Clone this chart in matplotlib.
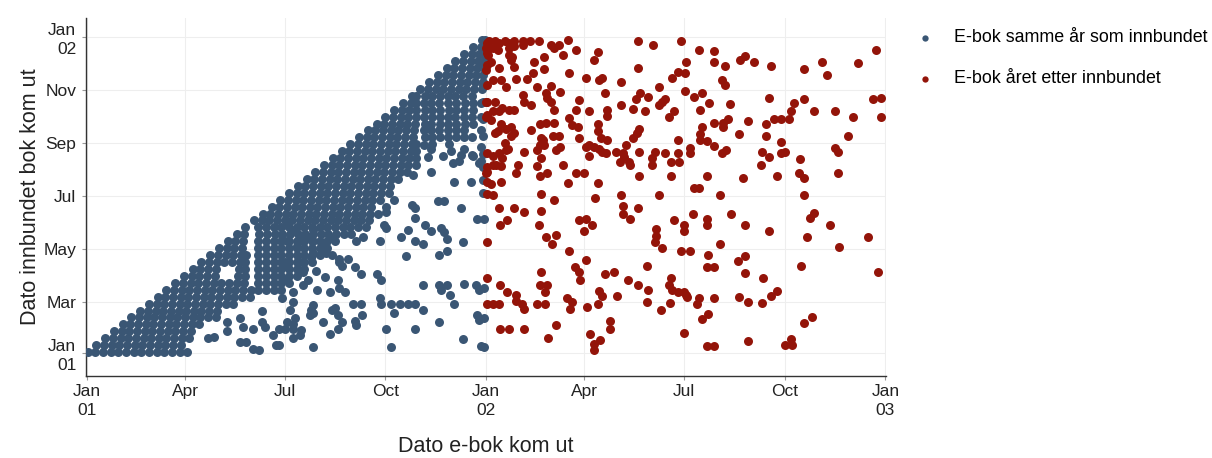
import numpy as np
import matplotlib.pyplot as plt
import matplotlib.dates as mdates

plt.rcParams['font.family'] = ['Liberation Sans', 'DejaVu Sans']

# dager etter 1. jan 2001: (innbundet, [e-bok, ...])
blue_rows = [
    (1, [1, 8, 15, 22, 29, 36, 43, 50, 57, 64, 71, 78, 85, 92]),
    (9, [9, 16, 23, 30, 37, 44, 51, 58, 65, 72, 79, 86]),
    (17, [17, 24, 31, 38, 45, 52, 59, 66, 73, 80, 87, 94]),
    (25, [25, 32, 39, 46, 53, 60, 67, 74, 81, 88, 95]),
    (33, [33, 40, 47, 54, 61, 68, 75, 82, 89, 96, 103]),
    (41, [41, 48, 55, 62, 69, 76, 83, 90, 97, 104, 111, 118]),
    (49, [49, 56, 63, 70, 77, 84, 91, 98, 105, 112, 119]),
    (57, [57, 64, 71, 78, 85, 92, 99, 106, 113, 120, 127, 134]),
    (65, [65, 72, 79, 86, 93, 100, 107, 114, 121, 128, 135, 142, 149]),
    (73, [73, 80, 87, 94, 101, 108, 115, 122, 129, 136, 143, 150, 157, 164, 171, 178]),
    (81, [81, 88, 95, 102, 109, 116, 123, 130, 137, 144, 157, 164, 171, 178, 185]),
    (89, [89, 96, 103, 110, 117, 138, 145, 157, 164, 171, 178, 185, 192]),
    (97, [97, 104, 111, 118, 139, 145, 157, 164, 171, 178, 185, 192, 199]),
    (105, [105, 112, 119, 126, 133, 140, 145, 157, 164, 171, 178, 185, 192, 199, 206]),
    (113, [113, 120, 127, 134, 141, 146, 157, 164, 171, 178, 185, 192, 199, 206, 213]),
    (121, [121, 128, 135, 142, 157, 164, 171, 178, 185, 192, 199, 206, 213, 220]),
    (129, [129, 136, 143, 157, 164, 171, 178, 185, 192, 199, 206, 213, 220, 227]),
    (137, [137, 144, 158, 165, 172, 179, 186, 193, 200, 207, 214, 221, 228, 235, 242]),
    (145, [145, 157, 164, 171, 178, 185, 192, 199, 206, 213, 220, 227, 234, 241, 248, 255]),
    (153, [153, 160, 167, 174, 181, 188, 195, 202, 209, 216, 223, 230, 237, 244, 251, 258]),
    (161, [161, 168, 175, 182, 189, 196, 203, 210, 217, 224, 231, 238, 245, 252, 259, 266]),
    (169, [169, 176, 183, 190, 197, 204, 211, 218, 225, 232, 239, 246, 253, 260]),
    (177, [177, 184, 191, 198, 205, 212, 219, 226, 233, 240, 247, 254, 261, 268]),
    (185, [185, 192, 199, 206, 213, 220, 227, 234, 241, 248, 255, 262, 269, 276]),
    (193, [193, 200, 207, 214, 221, 228, 235, 242, 249, 256, 263, 270, 277]),
    (201, [201, 208, 215, 222, 229, 236, 243, 250, 257, 264, 271, 278, 285]),
    (209, [209, 216, 223, 230, 237, 244, 251, 258, 265, 272, 279, 286, 293]),
    (217, [217, 224, 231, 238, 245, 252, 259, 266, 273, 280, 287, 294, 301]),
    (225, [225, 232, 239, 246, 253, 260, 267, 274, 281, 288, 295, 301]),
    (233, [233, 240, 247, 254, 261, 268, 275, 282, 289, 296, 301]),
    (241, [241, 248, 255, 262, 269, 276, 283, 290, 297, 301, 316, 331]),
    (249, [249, 256, 263, 270, 277, 284, 291, 298, 309, 316, 323, 330, 338, 345, 352]),
    (257, [257, 264, 271, 278, 285, 292, 299, 308, 315, 322, 330, 338, 345, 360]),
    (265, [265, 272, 279, 286, 293, 300, 309, 315, 323, 330, 338, 346, 353]),
    (273, [273, 280, 287, 294, 301, 308, 316, 323, 330, 337, 345, 352, 360]),
    (281, [281, 288, 295, 301, 309, 316, 323, 331, 338, 345, 353]),
    (289, [289, 296, 301, 308, 315, 322, 330, 338, 346, 353, 360]),
    (297, [297, 301, 309, 316, 323, 330, 337, 344, 352]),
    (305, [305, 312, 319, 326, 333, 340, 347, 354, 361]),
    (313, [313, 320, 327, 334, 341, 348, 355, 362]),
    (321, [321, 328, 335, 342, 349, 356, 362]),
    (329, [329, 336, 343, 350, 357, 363]),
    (337, [337, 344, 351, 358, 363]),
    (345, [345, 352, 359, 364]),
    (353, [353, 360, 364]),
    (361, [361, 364]),
]

# (e-bok, innbundet) for spredte punkter i samme år
blue_extra = [
    (308, 240), (315, 235), (326, 228), (333, 233), (345, 236), (352, 229), (360, 238),
    (312, 226), (340, 222), (360, 222), (298, 206), (315, 209), (336, 198), (351, 198),
    (335, 219), (353, 227), (359, 219), (342, 229),
    (362, 185), (362, 200), (362, 215), (362, 230), (362, 250), (362, 270), (362, 290),
    (362, 310), (362, 330), (362, 345), (363, 355), (363, 155), (363, 75), (363, 40), (363, 7),
    (281, 177), (321, 176), (327, 175), (342, 168), (357, 155), (297, 171), (300, 168),
    (300, 156), (274, 169), (274, 163), (272, 148), (274, 144), (294, 142), (287, 134),
    (309, 148), (315, 141), (324, 144), (327, 140), (329, 132), (344, 128), (307, 126),
    (300, 129), (268, 129), (253, 134), (246, 129), (292, 112), (322, 113), (329, 118),
    (239, 108), (231, 105), (233, 100), (245, 99), (251, 91), (265, 91), (269, 84),
    (307, 78), (322, 79), (329, 79), (324, 73), (332, 67), (336, 57), (345, 80), (356, 79),
    (359, 73), (268, 63), (269, 57), (278, 56), (286, 57), (294, 56), (300, 56), (307, 50),
    (281, 46), (251, 57), (243, 56), (252, 44), (245, 37), (246, 32), (230, 28), (222, 22),
    (224, 50), (230, 44), (227, 52), (207, 55), (205, 50), (204, 44), (207, 46), (189, 59),
    (186, 50), (190, 40), (189, 34), (183, 36), (181, 28), (189, 28), (196, 27), (189, 17),
    (195, 21), (176, 9), (207, 7), (274, 28), (278, 7), (300, 28), (322, 36), (344, 16),
    (357, 44), (359, 38), (360, 8), (216, 36), (233, 36), (198, 79), (189, 71), (179, 63),
    (211, 73), (222, 70), (231, 75), (236, 71), (230, 84), (218, 88), (210, 95), (198, 93),
    (202, 84), (183, 86), (181, 105), (183, 100), (195, 105), (205, 111), (207, 115),
    (219, 115), (224, 113), (231, 109), (216, 125), (222, 133), (207, 129), (204, 134),
    (207, 142), (190, 142), (183, 148), (179, 136), (183, 129), (192, 123), (196, 130),
    (111, 17), (116, 19), (128, 36), (128, 25), (140, 40), (143, 30), (152, 28), (160, 48),
    (160, 36), (152, 5), (158, 3), (140, 13), (146, 13), (170, 21), (173, 9), (176, 28),
    (163, 30),
]

# (e-bok, innbundet) for e-bok året etter
red_points = [
    (368, 360), (373, 360), (377, 358), (382, 360), (386, 358), (391, 360), (399, 360),
    (405, 360), (413, 360), (424, 356), (432, 356), (440, 361), (504, 360), (518, 356),
    (543, 360), (365, 352), (371, 352), (376, 350), (386, 352), (391, 354), (399, 356),
    (427, 352), (435, 344), (447, 350), (467, 348), (464, 338), (418, 342), (409, 336),
    (408, 323), (418, 328), (386, 344), (388, 338), (389, 342), (367, 344), (370, 336),
    (377, 329), (391, 330), (365, 327), (371, 315), (379, 315), (383, 307), (392, 316),
    (402, 316), (412, 307), (424, 308), (433, 301), (420, 300), (399, 298), (400, 290),
    (406, 286), (421, 294), (424, 290), (427, 281), (441, 323), (456, 317), (468, 315),
    (471, 317), (488, 313), (474, 300), (450, 292), (447, 281), (459, 279), (476, 281),
    (476, 274), (488, 286), (499, 282), (502, 293), (506, 300), (513, 296), (523, 307),
    (535, 317), (540, 324), (547, 323), (504, 329), (547, 302), (526, 290), (529, 293),
    (523, 286), (537, 279), (532, 273), (510, 279), (365, 290), (373, 290), (371, 279),
    (377, 279), (380, 283), (386, 281), (391, 281), (365, 273), (370, 269), (379, 265),
    (383, 259), (388, 261), (391, 254), (388, 250), (373, 254), (376, 256), (406, 258),
    (414, 265), (420, 266), (427, 266), (441, 271), (444, 263), (449, 261), (467, 265),
    (450, 248), (415, 248), (414, 240), (418, 240), (412, 234), (417, 246), (426, 251),
    (432, 251), (433, 238), (429, 234), (467, 256), (470, 248), (476, 246), (459, 240),
    (456, 238), (464, 238), (468, 236), (471, 232), (475, 231), (459, 227), (484, 232),
    (490, 231), (493, 240), (499, 248), (503, 254), (505, 259), (505, 232), (517, 225),
    (519, 232), (529, 231), (540, 246), (534, 220), (541, 220), (540, 231), (371, 227),
    (377, 231), (380, 225), (371, 217), (379, 216), (374, 217), (365, 208), (394, 217),
    (392, 208), (400, 232), (415, 225), (412, 216), (414, 204), (421, 208), (435, 217),
    (440, 196), (447, 208), (455, 208), (467, 196), (491, 226), (487, 221), (496, 221),
    (497, 217), (505, 204), (517, 217), (534, 204), (370, 195), (379, 197), (371, 182),
    (415, 184), (427, 177), (465, 179), (488, 182), (523, 182), (383, 234), (382, 242),
    (385, 236),
    (366, 358), (366, 346), (366, 333), (366, 310), (366, 290), (366, 275), (366, 231),
    (366, 215), (366, 209), (366, 198), (366, 184), (366, 128), (366, 87), (366, 56),
    (560, 350), (573, 349), (548, 336), (573, 336), (583, 331), (597, 338), (602, 343),
    (610, 336), (625, 331), (581, 315), (583, 310), (555, 296), (562, 300), (569, 289),
    (561, 281), (588, 287), (624, 295), (573, 266), (582, 266), (586, 270), (582, 261),
    (562, 261), (561, 253), (561, 246), (567, 245), (573, 239), (596, 253), (604, 268),
    (621, 265), (621, 251), (628, 270), (635, 270), (642, 270), (644, 280), (646, 289),
    (656, 293), (656, 328), (665, 280), (672, 336), (677, 321), (684, 279), (700, 273),
    (696, 251), (705, 335), (721, 350), (719, 293), (726, 294), (726, 273), (551, 237),
    (551, 231), (581, 231), (584, 234), (617, 232), (624, 226), (616, 217), (635, 244),
    (635, 231), (638, 232), (652, 224), (684, 237), (687, 232), (651, 208), (656, 202),
    (687, 208), (567, 204), (600, 202), (631, 204), (555, 191), (560, 190), (579, 182),
    (656, 182),
    (377, 168), (391, 168), (400, 163), (384, 154), (378, 148), (415, 164), (413, 148),
    (420, 134), (429, 136), (425, 126), (441, 118), (450, 154), (456, 155), (462, 148),
    (455, 141), (490, 170), (490, 161), (504, 168), (497, 155), (520, 143), (520, 135),
    (519, 128), (526, 121), (537, 154), (546, 148), (546, 141), (543, 118), (456, 107),
    (446, 99), (450, 94), (451, 84), (474, 91), (482, 93), (495, 84), (504, 78), (513, 73),
    (512, 100), (534, 87), (532, 78), (535, 73), (540, 71), (546, 71), (548, 67), (512, 59),
    (525, 50), (533, 58), (468, 72), (471, 66), (485, 66), (467, 56), (457, 53), (478, 37),
    (478, 28), (469, 15), (460, 22), (464, 10), (464, 3), (415, 94), (414, 79), (421, 79),
    (419, 70), (412, 56), (419, 56), (439, 63), (444, 59), (442, 51), (429, 32), (422, 17),
    (378, 79), (384, 70), (392, 67), (392, 60), (398, 56), (400, 51), (371, 56), (377, 56),
    (378, 28), (386, 28), (400, 28), (546, 23),
    (554, 161), (567, 155), (567, 148), (589, 161), (602, 148), (624, 141), (579, 126),
    (551, 118), (568, 113), (595, 106), (602, 112), (567, 99), (573, 99), (602, 92),
    (618, 87), (665, 162), (661, 156), (679, 148), (658, 134), (714, 134), (688, 122),
    (653, 101), (723, 94), (549, 65), (560, 64), (558, 56), (573, 64), (596, 65), (604, 59),
    (617, 58), (625, 66), (631, 72), (568, 45), (562, 39), (567, 8), (573, 8), (604, 14),
    (638, 9), (644, 16), (645, 9), (656, 35), (663, 42),
]

BLUE = '#3a5674'
RED = '#931409'
start = np.datetime64('2001-01-01')


def to_dates(days):
    return start + np.array(days, dtype='timedelta64[D]')


blue_e = [e for h, row in blue_rows for e in row] + [p[0] for p in blue_extra]
blue_h = [h for h, row in blue_rows for e in row] + [p[1] for p in blue_extra]
red_e = [p[0] for p in red_points]
red_h = [p[1] for p in red_points]

fig = plt.figure(figsize=(12.12, 4.58), dpi=100)
ax = fig.add_axes([0.071, 0.179, 0.660, 0.782])

b = ax.scatter(to_dates(blue_e), to_dates(blue_h), s=42, color=BLUE, linewidths=0,
               label='E-bok samme år som innbundet', zorder=3)
r = ax.scatter(to_dates(red_e), to_dates(red_h), s=42, color=RED, linewidths=0,
               label='E-bok året etter innbundet', zorder=3)

d0 = mdates.date2num(start)
ax.set_xlim(d0 - 0.5, d0 + 730.5)
ax.set_ylim(d0 - 26.6, d0 + 387)


def fmt(x, pos=None):
    d = mdates.num2date(x)
    return d.strftime('%b\n%y') if d.month == 1 else d.strftime('%b')


ax.xaxis.set_major_locator(mdates.MonthLocator(bymonth=[1, 4, 7, 10]))
ax.xaxis.set_major_formatter(plt.FuncFormatter(fmt))
ax.yaxis.set_major_locator(mdates.MonthLocator(bymonth=[1, 3, 5, 7, 9, 11]))
ax.yaxis.set_major_formatter(plt.FuncFormatter(fmt))

ax.grid(True, color='#eeeeee', linewidth=0.8, zorder=0)
ax.set_axisbelow(True)
for side in ['top', 'right']:
    ax.spines[side].set_visible(False)
for side in ['left', 'bottom']:
    ax.spines[side].set_color('#333333')
    ax.spines[side].set_linewidth(1.0)

ax.tick_params(axis='both', length=3, color='#999999', labelsize=12.5, labelcolor='#222222')
ax.tick_params(axis='x', pad=3)
ax.tick_params(axis='y', pad=4)
for lab in ax.get_yticklabels() + ax.get_xticklabels():
    lab.set_linespacing(1.3)

ax.set_xlabel('Dato e-bok kom ut', fontsize=15.5, color='#222222')
ax.set_ylabel('Dato innbundet bok kom ut', fontsize=15.5, color='#222222')
ax.xaxis.set_label_coords(0.5, -0.168)
ax.yaxis.set_label_coords(-0.056, 0.5)

fig.legend(handles=[b, r], loc='upper left', bbox_to_anchor=(0.756, 0.936),
           frameon=False, fontsize=12.9, markerscale=0.7, handlelength=1.0,
           handletextpad=1.1, labelspacing=1.35, borderpad=0, borderaxespad=0)

fig.savefig('out.png', dpi=100)
